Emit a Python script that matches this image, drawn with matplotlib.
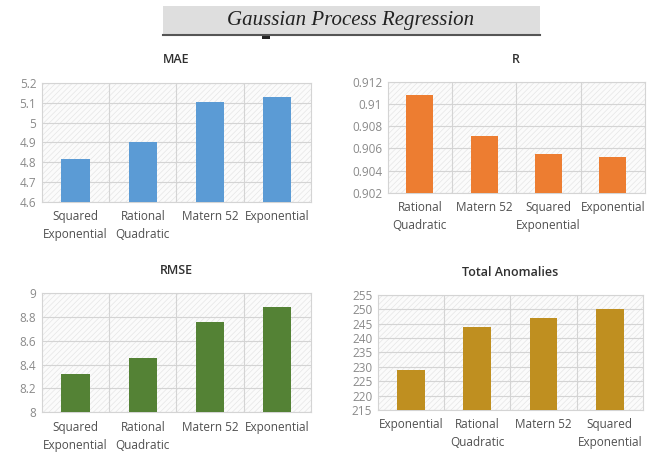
import matplotlib
matplotlib.use('Agg')
import matplotlib.pyplot as plt
from matplotlib.patches import Rectangle
import numpy as np

# data
mae_labels = ['Squared\nExponential', 'Rational\nQuadratic', 'Matern 52', 'Exponential']
mae_values = [4.815, 4.902, 5.102, 5.131]

r_labels = ['Rational\nQuadratic', 'Matern 52', 'Squared\nExponential', 'Exponential']
r_values = [0.9108, 0.9071, 0.9055, 0.9052]

rmse_labels = ['Squared\nExponential', 'Rational\nQuadratic', 'Matern 52', 'Exponential']
rmse_values = [8.324, 8.456, 8.761, 8.882]

ta_labels = ['Exponential', 'Rational\nQuadratic', 'Matern 52', 'Squared\nExponential']
ta_values = [229, 244, 247, 250]

plt.rcParams['font.family'] = ['Open Sans', 'DejaVu Sans']
plt.rcParams['hatch.linewidth'] = 0.5


def draw_panel(ax, title, labels, values, color, ylim, step):
    x = np.arange(len(values))
    ax.set_xlim(-0.5, len(values) - 0.5)
    ax.set_ylim(*ylim)
    # faint hatched background like the original
    ax.add_patch(Rectangle((0, 0), 1, 1, transform=ax.transAxes, facecolor='#fbfbfb',
                           edgecolor='#e6e6e6', hatch='//////', lw=0, zorder=0))
    ax.bar(x, [v - ylim[0] for v in values], bottom=ylim[0], width=0.42,
           color=color, zorder=3)
    ticks = np.arange(ylim[0], ylim[1] + step / 2, step)
    ax.set_yticks(ticks)
    ax.set_yticklabels(['%g' % round(t, 4) for t in ticks])
    ax.set_xticks(x)
    ax.set_xticklabels(labels, linespacing=1.5)
    for t in ticks:
        ax.axhline(t, color='#d4d4d4', lw=0.8, zorder=1)
    for b in np.arange(0.5, len(values) - 0.5, 1):
        ax.axvline(b, color='#d4d4d4', lw=0.8, zorder=1)
    for s in ax.spines.values():
        s.set_color('#d4d4d4')
        s.set_linewidth(0.8)
    ax.tick_params(length=0)
    ax.tick_params(axis='y', labelsize=8.5, labelcolor='#8a8a8a', pad=4)
    ax.tick_params(axis='x', labelsize=8.5, labelcolor='#505050', pad=6)
    ax.set_title(title, fontsize=9, color='#303030', fontweight='semibold', pad=14)


fig = plt.figure(figsize=(6.56, 4.58), dpi=100)

ax1 = fig.add_axes([0.064, 0.559, 0.410, 0.260])
draw_panel(ax1, 'MAE', mae_labels, mae_values, '#5b9bd5', (4.6, 5.2), 0.1)

ax2 = fig.add_axes([0.591, 0.579, 0.392, 0.242])
draw_panel(ax2, 'R', r_labels, r_values, '#ed7d31', (0.902, 0.912), 0.002)

ax3 = fig.add_axes([0.064, 0.100, 0.410, 0.260])
draw_panel(ax3, 'RMSE', rmse_labels, rmse_values, '#548235', (8, 9), 0.2)

ax4 = fig.add_axes([0.576, 0.105, 0.404, 0.251])
draw_panel(ax4, 'Total Anomalies', ta_labels, ta_values, '#bf8f20', (215, 255), 5)

# title banner
fig.patches.append(Rectangle((163 / 656, 1 - 35 / 458), 377 / 656, 29 / 458,
                             transform=fig.transFigure, facecolor='#dedede',
                             edgecolor='none'))
fig.lines.append(plt.Line2D([163 / 656, 540 / 656], [1 - 35 / 458, 1 - 35 / 458],
                            transform=fig.transFigure, color='#555555', lw=1.5))
fig.patches.append(Rectangle((262 / 656, 1 - 39 / 458), 8 / 656, 3 / 458,
                             transform=fig.transFigure, facecolor='#222222',
                             edgecolor='none'))
fig.text(351 / 656, 1 - 20 / 458, 'Gaussian Process Regression', ha='center', va='center',
         fontsize=15, family='Liberation Serif', style='italic', color='#222222')

fig.savefig('out.png', dpi=100)
